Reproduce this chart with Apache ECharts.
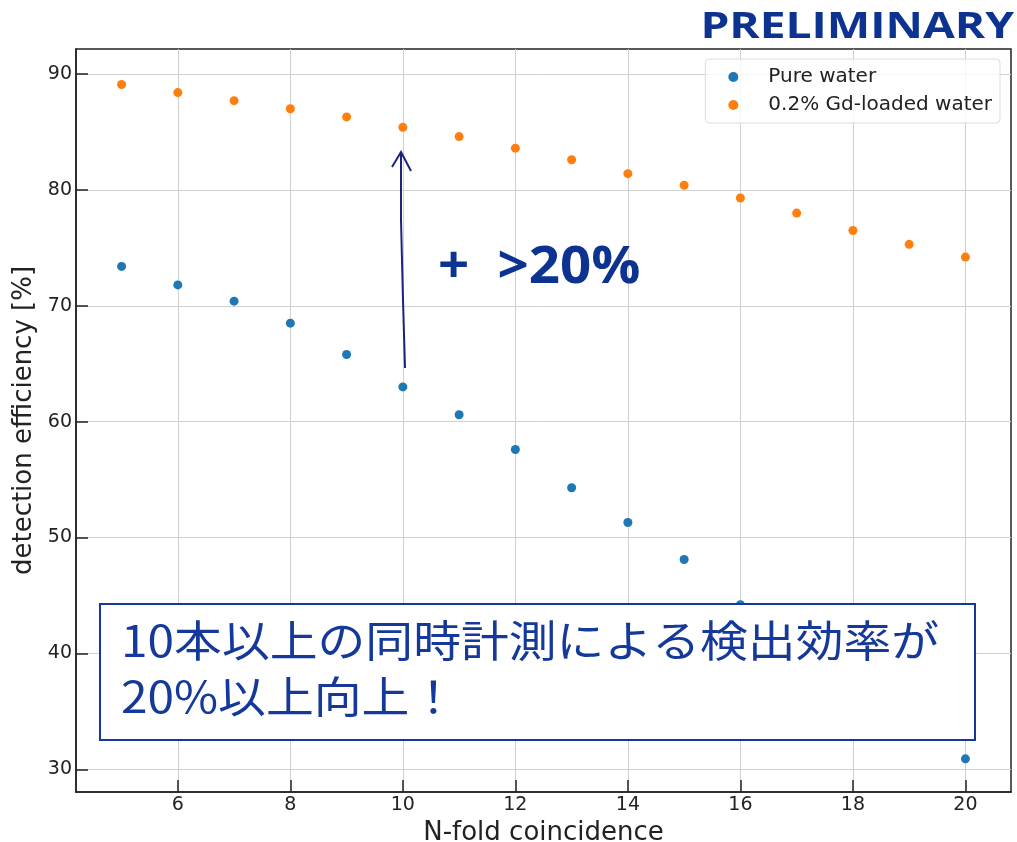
<!DOCTYPE html>
<html>
<head>
<meta charset="utf-8">
<script src="https://cdn.jsdelivr.net/npm/echarts@6/dist/echarts.min.js"></script>
<style>
  html, body { margin: 0; padding: 0; background: #fff; }
  #chart { width: 1017px; height: 842px; }
</style>
</head>
<body>
<div id="chart"></div>
<script>
const nFold = [5, 6, 7, 8, 9, 10, 11, 12, 13, 14, 15, 16, 17, 18, 19, 20];
const pureWater = [73.4, 71.8, 70.4, 68.5, 65.8, 63.0, 60.6, 57.6, 54.3, 51.3, 48.1, 44.2, 40.8, 37.3, 34.0, 30.9];
const gdWater = [89.1, 88.4, 87.7, 87.0, 86.3, 85.4, 84.6, 83.6, 82.6, 81.4, 80.4, 79.3, 78.0, 76.5, 75.3, 74.2];
const xTicks = [6, 8, 10, 12, 14, 16, 18, 20];
const yTicks = [30, 40, 50, 60, 70, 80, 90];

const chartBlock = document.getElementById('chart');
const chart = echarts.init(chartBlock, null, { renderer: 'canvas' });

const pairs = (ys) => nFold.map((x, i) => [x, ys[i]]);
const navy = '#0d3391';
const font = 'DejaVu Sans';

const option = {
  animation: false,
  backgroundColor: '#fff',
  grid: {
    left: 76,
    top: 49,
    right: 6,
    bottom: 50,
    outerBoundsMode: 'none',
    show: true,
    borderColor: '#222',
    borderWidth: 1.5,
    backgroundColor: 'transparent',
  },
  legend: {
    right: 17,
    top: 59,
    orient: 'vertical',
    itemWidth: 10,
    itemHeight: 10,
    itemGap: 8,
    padding: [8, 8, 8, 23],
    backgroundColor: 'rgba(255,255,255,0.8)',
    borderColor: '#ddd',
    borderWidth: 1,
    borderRadius: 4,
    textStyle: { fontFamily: font, fontSize: 20, color: '#222', padding: [0, 0, 0, 25] },
    data: [
      { name: 'Pure water', icon: 'circle' },
      { name: '0.2% Gd-loaded water', icon: 'circle' },
    ],
  },
  xAxis: {
    type: 'value',
    min: 4.19,
    max: 20.81,
    name: 'N-fold coincidence',
    nameLocation: 'middle',
    nameGap: 22,
    nameTextStyle: { fontFamily: font, fontSize: 26, color: '#222' },
    axisLine: { show: true, lineStyle: { color: '#222', width: 1.5 } },
    axisTick: { show: true, inside: true, length: 12, customValues: xTicks, lineStyle: { color: '#222', width: 1.5 } },
    axisLabel: { customValues: xTicks, fontFamily: font, fontSize: 19, color: '#222', margin: 4 },
    splitLine: { show: true, lineStyle: { color: '#d0d0d0', width: 1 } },
  },
  yAxis: {
    type: 'value',
    min: 28.04,
    max: 92.16,
    name: 'detection efficiency [%]',
    nameLocation: 'middle',
    nameGap: 30,
    nameTextStyle: { fontFamily: font, fontSize: 26, color: '#222' },
    axisLine: { show: true, lineStyle: { color: '#222', width: 1.5 } },
    axisTick: { show: true, inside: true, length: 12, customValues: yTicks, lineStyle: { color: '#222', width: 1.5 } },
    axisLabel: { customValues: yTicks, fontFamily: font, fontSize: 19, color: '#222', margin: 4 },
    splitLine: { show: true, lineStyle: { color: '#d0d0d0', width: 1 } },
  },
  series: [
    {
      name: 'Pure water',
      type: 'scatter',
      symbolSize: 9,
      itemStyle: { color: '#1f77b4', opacity: 1 },
      data: pairs(pureWater),
    },
    {
      name: '0.2% Gd-loaded water',
      type: 'scatter',
      symbolSize: 9,
      itemStyle: { color: '#ff7f0e', opacity: 1 },
      data: pairs(gdWater),
    },
  ],
  graphic: [
    {
      type: 'text',
      x: 1014,
      y: 10,
      scaleX: 1.28,
      z: 100,
      style: { text: 'PRELIMINARY', fill: navy, font: 'bold 36px "Open Sans"', align: 'right', verticalAlign: 'top' },
    },
    {
      type: 'text',
      x: 438,
      y: 242,
      scaleX: 1.05,
      z: 100,
      style: { text: '+  >20%', fill: navy, font: 'bold 52px "Open Sans"', align: 'left', verticalAlign: 'top' },
    },
    {
      type: 'polyline',
      z: 100,
      shape: { points: [[405, 368], [403, 300], [401, 220], [401, 152]] },
      style: { stroke: '#1a237e', lineWidth: 2, fill: null },
    },
    {
      type: 'polyline',
      z: 100,
      shape: { points: [[392, 167], [401, 152], [411, 171]] },
      style: { stroke: '#1a237e', lineWidth: 2, fill: null },
    },
    {
      type: 'rect',
      z: 100,
      shape: { x: 100, y: 604, width: 875, height: 136 },
      style: { fill: '#fff', stroke: '#15399a', lineWidth: 2 },
    },
    {
      type: 'text',
      x: 121,
      y: 613,
      scaleX: 1.112,
      z: 101,
      style: {
        text: '10本以上の同時計測による検出効率が\n20%以上向上！',
        fill: '#15399a',
        font: '43px "Noto Sans CJK JP"',
        lineHeight: 56,
        align: 'left',
        verticalAlign: 'top',
      },
    },
  ],
};

chart.setOption(option);
window.addEventListener('resize', () => chart.resize());
</script>
</body>
</html>
